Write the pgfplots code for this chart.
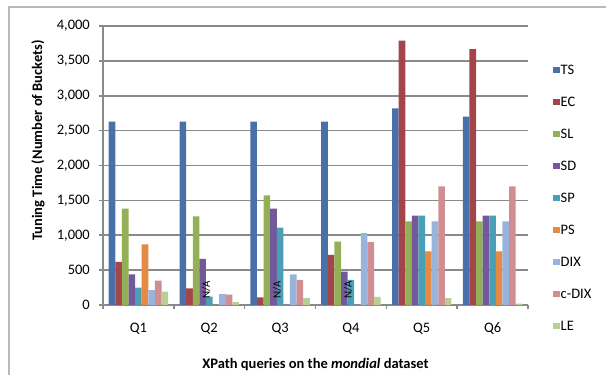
\documentclass[border=0pt]{standalone}
\usepackage{pgfplots}
\pgfplotsset{compat=1.18}
\usepackage{fontspec}
\setmainfont{Carlito}
\definecolor{cTS}{HTML}{4A70AA}
\definecolor{cEC}{HTML}{A3464A}
\definecolor{cSL}{HTML}{93B056}
\definecolor{cSD}{HTML}{73599B}
\definecolor{cSP}{HTML}{4A9EB6}
\definecolor{cPS}{HTML}{E58A42}
\definecolor{cDIX}{HTML}{98B4DC}
\definecolor{cCDIX}{HTML}{D08E92}
\definecolor{cLE}{HTML}{B8CE92}
\definecolor{gridc}{RGB}{138,138,138}
\newcommand{\fs}{\fontsize{14.5bp}{16bp}\selectfont}
\pgfplotsset{sq/.style={legend image code/.code={\path[##1,draw=none] (0bp,-3bp) rectangle (6.5bp,3.5bp);}}}
\begin{document}
\begin{tikzpicture}
\useasboundingbox (0,0) rectangle (606bp,380bp);
\draw[color=gray!55, line width=1.2bp] (9bp,5bp) -- (9bp,373bp) -- (606bp,373bp);
\begin{axis}[
  at={(103bp,75bp)}, anchor=south west,
  scale only axis, width=425bp, height=279bp,
  ybar=0pt, bar width=6.6bp,
  xmin=0.5, xmax=6.5, ymin=0, ymax=4000,
  axis lines=left,
  axis line style={-, draw=gridc, line width=1.6bp},
  xtick={0.5,1.5,...,6.5},
  x tick label as interval,
  xticklabels={Q1,Q2,Q3,Q4,Q5,Q6},
  ytick={0,500,...,4000},
  ymajorgrids,
  grid style={draw=gridc, line width=1.6bp},
  tick align=outside, major tick length=4bp,
  tick style={draw=gridc, line width=1.6bp},
  /pgf/number format/assume math mode=true,
  /pgf/number format/.cd, 1000 sep={,}, /pgfplots/.cd,
  ticklabel style={font=\fs},
  yticklabel style={inner sep=0pt, xshift=-9bp},
  xticklabel style={inner sep=0pt, yshift=-14bp},
  ylabel={\bfseries Tuning Time (Number of Buckets)},
  ylabel style={font=\fs, at={(axis description cs:-0.153,0.59)}, anchor=center, rotate=0},
  xlabel={\bfseries XPath queries on the \textit{mondial} dataset},
  xlabel style={font=\fs, at={(axis description cs:0.5,-0.215)}, anchor=center},
  legend style={at={(1.0588,0.86)}, anchor=north west, draw=none, fill=none,
    font=\fs, inner sep=0pt, row sep=22bp,
    nodes={inner sep=1bp, text height=8bp, text depth=0bp, anchor=west}},
  legend cell align=left,
]
\addplot[fill=cTS, draw=none, sq] coordinates {(1,2630) (2,2630) (3,2630) (4,2630) (5,2820) (6,2700)};
\addplot[fill=cEC, draw=none, sq] coordinates {(1,620) (2,240) (3,110) (4,720) (5,3790) (6,3670)};
\addplot[fill=cSL, draw=none, sq] coordinates {(1,1380) (2,1270) (3,1570) (4,910) (5,1200) (6,1200)};
\addplot[fill=cSD, draw=none, sq] coordinates {(1,440) (2,660) (3,1380) (4,480) (5,1280) (6,1280)};
\addplot[fill=cSP, draw=none, sq] coordinates {(1,250) (2,120) (3,1110) (4,360) (5,1280) (6,1280)};
\addplot[fill=cPS, draw=none, sq] coordinates {(1,870) (5,770) (6,770)};
\addplot[fill=cDIX, draw=none, sq] coordinates {(1,215) (2,155) (3,440) (4,1030) (5,1200) (6,1200)};
\addplot[fill=cCDIX, draw=none, sq] coordinates {(1,350) (2,150) (3,360) (4,900) (5,1700) (6,1700)};
\addplot[fill=cLE, draw=none, sq] coordinates {(1,190) (2,40) (3,100) (4,115) (5,100) (6,20)};
\legend{TS,EC,SL,SD,SP,PS,DIX,c-DIX,LE}
\node[rotate=90, anchor=west, inner sep=0pt, font=\fontsize{11bp}{12bp}\selectfont] at (axis cs:2,0) [xshift=6.6bp, yshift=3bp] {N/A};
\node[rotate=90, anchor=west, inner sep=0pt, font=\fontsize{11bp}{12bp}\selectfont] at (axis cs:3,0) [xshift=6.6bp, yshift=3bp] {N/A};
\node[rotate=90, anchor=west, inner sep=0pt, font=\fontsize{11bp}{12bp}\selectfont] at (axis cs:4,0) [xshift=6.6bp, yshift=3bp] {N/A};
\end{axis}
\end{tikzpicture}
\end{document}
